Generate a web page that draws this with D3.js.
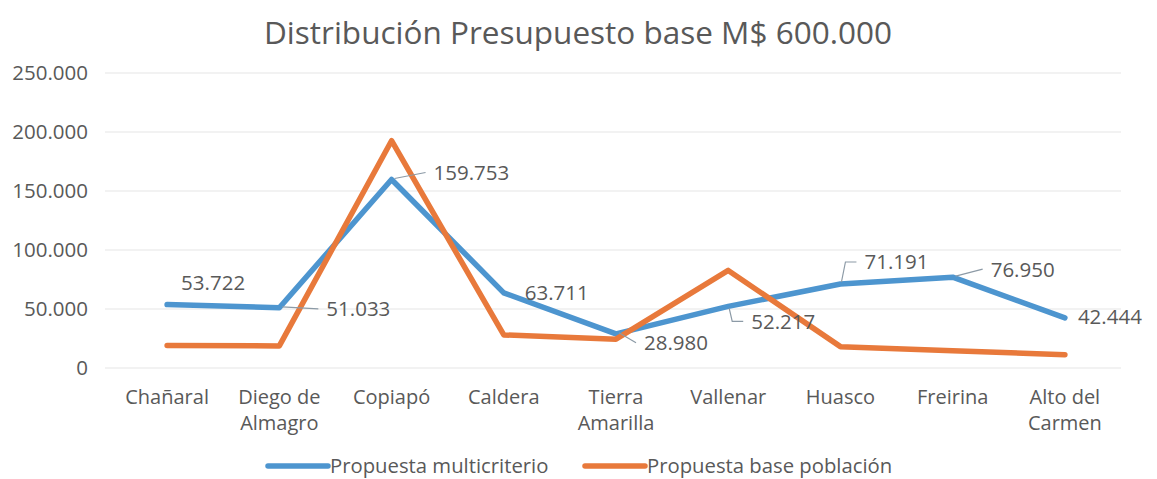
<!DOCTYPE html>
<html>
<head>
<meta charset="utf-8">
<script src="https://cdn.jsdelivr.net/npm/d3@7/dist/d3.min.js"></script>
<style>
  html, body { margin: 0; padding: 0; background: #fff; }
  svg text { font-family: "Open Sans", "Noto Sans", sans-serif; fill: #595959; }
</style>
</head>
<body>
<div id="chart"></div>
<script>
// Data (values in M$)
const comunas = [
  ["Chañaral"], ["Diego de", "Almagro"], ["Copiapó"], ["Caldera"], ["Tierra", "Amarilla"],
  ["Vallenar"], ["Huasco"], ["Freirina"], ["Alto del", "Carmen"]
];
const multicriterio = [53722, 51033, 159753, 63711, 28980, 52217, 71191, 76950, 42444];
const basePoblacion = [19000, 18700, 192600, 28000, 24400, 82700, 18100, 14700, 11300];
const yTicks = [0, 50000, 100000, 150000, 200000, 250000];
const seriesNames = ["Propuesta multicriterio", "Propuesta base población"];

// label placement relative to each blue point: [dx, dy, leader style]
const labelOffsets = [
  [14, -22, null], [47, 1, "line"], [42, -7, "line"], [21, 0, null], [28, 9, "line"],
  [23, 15, "elbowDown"], [24, -22, "elbowUp"], [38, -8, "line"], [13, -1, null]
];

const width = 1157, height = 479;
const margin = { top: 73, right: 36, bottom: 111, left: 111 };

const svg = d3.select("#chart").append("svg")
  .attr("width", width).attr("height", height);

const x = d3.scaleBand()
  .domain(d3.range(comunas.length))
  .range([margin.left, width - margin.right]);
const y = d3.scaleLinear([0, 250000], [height - margin.bottom, margin.top]);
const cx = i => x(i) + x.bandwidth() / 2;

const fmt = v => d3.format(",")(v).replace(/,/g, ".");

// title
svg.append("text")
  .attr("x", 578).attr("y", 44)
  .attr("text-anchor", "middle")
  .attr("font-size", 31.5)
  .text("Distribución Presupuesto base M$ 600.000");

// gridlines + y ticks
const yAxis = svg.append("g");
yAxis.selectAll("line").data(yTicks).join("line")
  .attr("x1", margin.left - 6).attr("x2", width - margin.right)
  .attr("y1", d => y(d)).attr("y2", d => y(d))
  .attr("stroke", "#e6e6e6").attr("stroke-width", 1.2);
yAxis.selectAll("text").data(yTicks).join("text")
  .attr("x", 88).attr("y", d => y(d))
  .attr("dy", "0.36em")
  .attr("text-anchor", "end")
  .attr("font-size", 20.5)
  .text(d => fmt(d));

// category labels
const xLab = svg.append("g").selectAll("text").data(comunas).join("text")
  .attr("x", (d, i) => cx(i))
  .attr("y", 404)
  .attr("text-anchor", "middle")
  .attr("font-size", 20);
xLab.selectAll("tspan").data(d => d).join("tspan")
  .attr("x", function() { return this.parentNode.getAttribute("x"); })
  .attr("dy", (d, j) => j ? 26 : 0)
  .text(d => d);

const line = d3.line().x((d, i) => cx(i)).y(d => y(d));
const colors = ["#4d95cf", "#e8793b"];

svg.append("path").datum(multicriterio)
  .attr("d", line).attr("fill", "none")
  .attr("stroke", colors[0]).attr("stroke-width", 5.5)
  .attr("stroke-linejoin", "round").attr("stroke-linecap", "round");
svg.append("path").datum(basePoblacion)
  .attr("d", line).attr("fill", "none")
  .attr("stroke", colors[1]).attr("stroke-width", 5.5)
  .attr("stroke-linejoin", "round").attr("stroke-linecap", "round");

// data labels with leader lines
const labels = svg.append("g");
multicriterio.forEach((v, i) => {
  const px = cx(i), py = y(v);
  const [dx, dy, leader] = labelOffsets[i];
  const lx = px + dx, ly = py + dy;
  if (leader) {
    let pts;
    if (leader === "line") pts = [[px + 3, py - 1], [lx - 8, ly]];
    else if (leader === "elbowDown") pts = [[px + 1, py + 2], [px + 4, ly], [lx - 8, ly]];
    else pts = [[px + 1, py - 2], [px + 5, ly], [lx - 8, ly]];
    labels.append("path")
      .attr("d", d3.line()(pts))
      .attr("fill", "none").attr("stroke", "#8c9aa6").attr("stroke-width", 1.2);
  }
  labels.append("text")
    .attr("x", lx).attr("y", ly)
    .attr("dy", "0.36em")
    .attr("font-size", 20.5)
    .text(fmt(v));
});

// legend
const legend = svg.append("g").attr("transform", "translate(0,466)");
const legendItems = [[268, 0], [585, 1]];
legendItems.forEach(([lx, k]) => {
  legend.append("line")
    .attr("x1", lx).attr("x2", lx + 60).attr("y1", 0).attr("y2", 0)
    .attr("stroke", colors[k]).attr("stroke-width", 5.5).attr("stroke-linecap", "round");
  legend.append("text")
    .attr("x", lx + 62).attr("y", 0).attr("dy", "0.35em")
    .attr("font-size", 20.3)
    .text(seriesNames[k]);
});
</script>
</body>
</html>
